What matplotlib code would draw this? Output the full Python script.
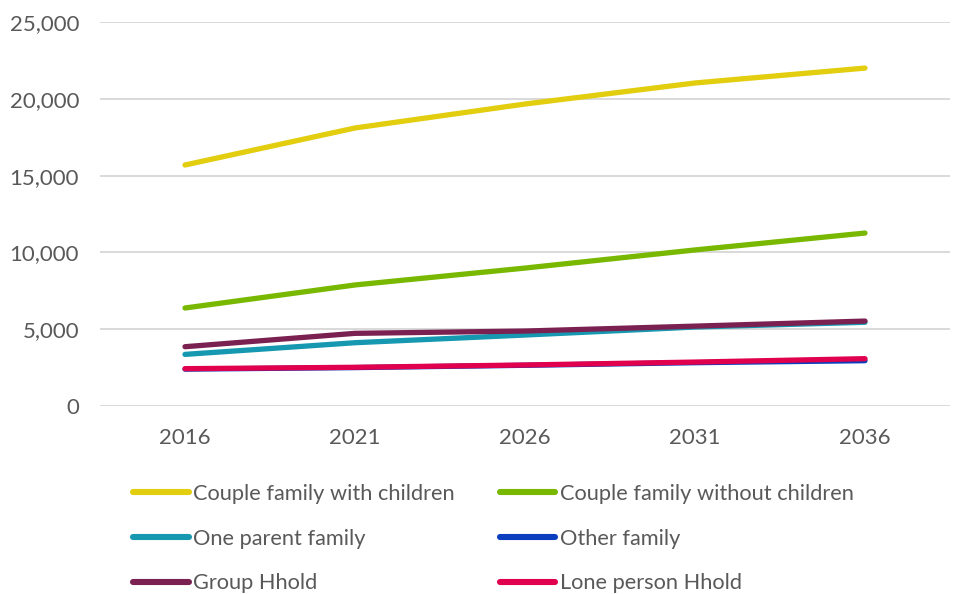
import matplotlib.pyplot as plt
from matplotlib.ticker import FuncFormatter

# household projections by type, 2016-2036
years = ["2016", "2021", "2026", "2031", "2036"]

couple_with_children = [15690, 18100, 19660, 21030, 22000]
couple_without_children = [6380, 7880, 8980, 10160, 11260]
one_parent = [3360, 4120, 4620, 5140, 5450]
other_family = [2400, 2500, 2650, 2820, 2950]
group_hhold = [3860, 4730, 4880, 5200, 5530]
lone_person = [2430, 2520, 2670, 2860, 3080]

series = [
    ("Couple family with children", couple_with_children, "#E2CD0E"),
    ("Couple family without children", couple_without_children, "#78B800"),
    ("One parent family", one_parent, "#1598B0"),
    ("Other family", other_family, "#0A3EBE"),
    ("Group Hhold", group_hhold, "#7A2152"),
    ("Lone person Hhold", lone_person, "#E0004D"),
]

plt.rcParams['font.family'] = ['Lato', 'DejaVu Sans']
grey = "#595959"

fig = plt.figure(figsize=(9.55, 5.94), dpi=100)
ax = fig.add_axes([100/955, 1 - 406/594, 850/955, (406 - 22)/594])

x = list(range(len(years)))
for name, vals, col in series:
    ax.plot(x, vals, color=col, lw=3.8, label=name, solid_capstyle="round")

ax.set_xlim(-0.5, len(years) - 0.5)
ax.set_ylim(0, 25000)
ax.set_yticks(range(0, 25001, 5000))
ax.yaxis.set_major_formatter(FuncFormatter(lambda v, p: f"{int(v):,}"))
ax.set_xticks(x)
ax.set_xticklabels(years)

ax.grid(axis="y", color="#d9d9d9", lw=1.4)
ax.set_axisbelow(True)
for s in ax.spines.values():
    s.set_visible(False)
ax.tick_params(length=0, labelsize=16, colors=grey)
ax.tick_params(axis="x", pad=16)
ax.tick_params(axis="y", pad=15)

# reorder so the legend reads across rows
handles, labels = ax.get_legend_handles_labels()
order = [0, 2, 4, 1, 3, 5]
leg = fig.legend([handles[i] for i in order], [labels[i] for i in order],
                 ncol=2, loc="upper left", frameon=False,
                 bbox_to_anchor=(133/955, 1 - 484/594), bbox_transform=fig.transFigure,
                 borderpad=0, borderaxespad=0, handlelength=2.55, handletextpad=0.2,
                 columnspacing=2.07, labelspacing=1.13, fontsize=15.7)
for t in leg.get_texts():
    t.set_color(grey)
for l in leg.get_lines():
    l.set_linewidth(4.4)

fig.savefig("out.png", dpi=100)
